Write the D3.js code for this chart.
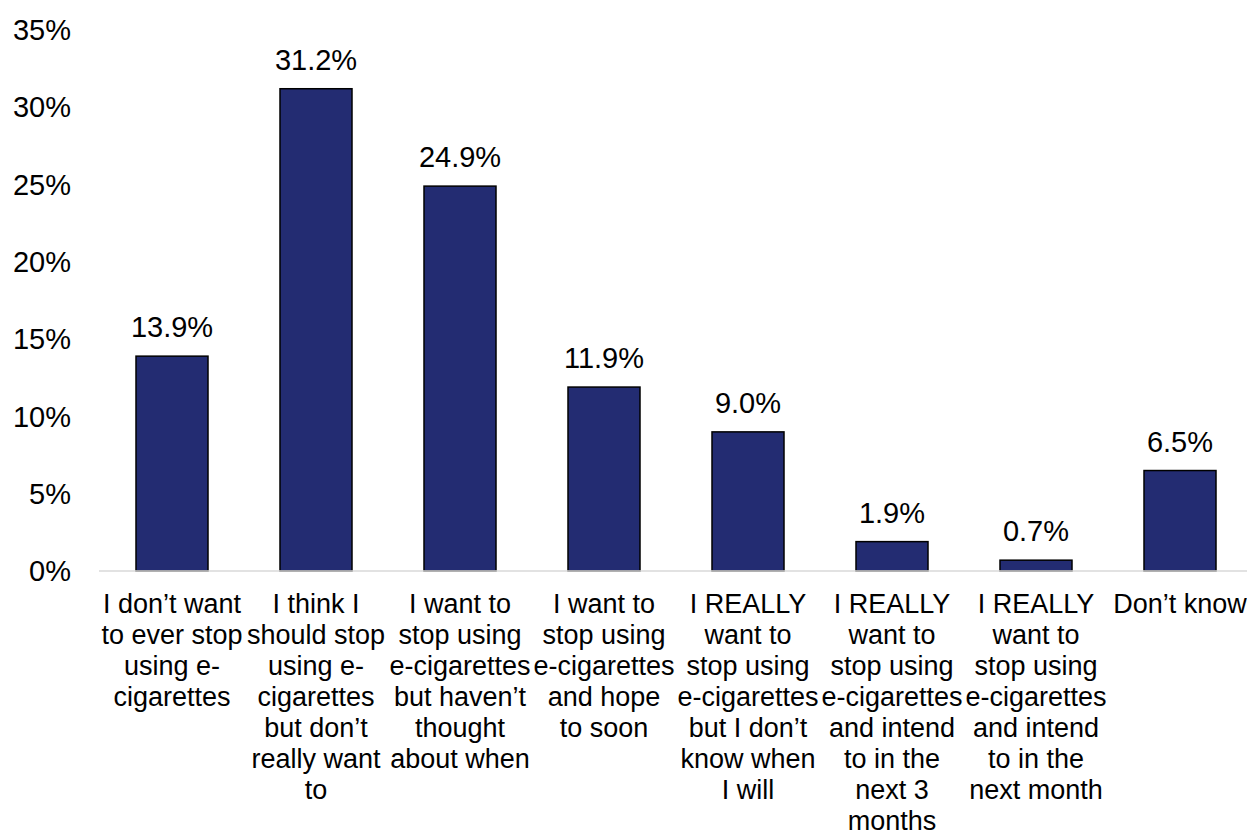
<!DOCTYPE html>
<html><head><meta charset="utf-8">
<script src="https://cdn.jsdelivr.net/npm/d3@7/dist/d3.min.js"></script>
<style>body{margin:0;background:#fff}svg{display:block}</style>
</head><body>
<svg id="c" width="1247" height="833"></svg>
<script>
const categories = [
  ["I don\u2019t want","to ever stop","using e-","cigarettes"],
  ["I think I","should stop","using e-","cigarettes","but don\u2019t","really want","to"],
  ["I want to","stop using","e-cigarettes","but haven\u2019t","thought","about when"],
  ["I want to","stop using","e-cigarettes","and hope","to soon"],
  ["I REALLY","want to","stop using","e-cigarettes","but I don\u2019t","know when","I will"],
  ["I REALLY","want to","stop using","e-cigarettes","and intend","to in the","next 3","months"],
  ["I REALLY","want to","stop using","e-cigarettes","and intend","to in the","next month"],
  ["Don\u2019t know"]
];
const values = [13.9, 31.2, 24.9, 11.9, 9.0, 1.9, 0.7, 6.5];
const yTicks = [0, 5, 10, 15, 20, 25, 30, 35];

const svg = d3.select("#c");
const font = "'Liberation Sans', Arial, sans-serif";
const x = d3.scaleBand().domain(d3.range(values.length)).range([100, 1252]).paddingInner(0.5).paddingOuter(0.25);
const y = d3.scaleLinear().domain([0, 35]).range([571, 30]);

// y tick labels
svg.append("g").selectAll("text").data(yTicks).join("text")
  .attr("x", 71).attr("y", d => y(d)).attr("dy", "0.35em")
  .attr("text-anchor", "end").attr("font-family", font).attr("font-size", 29)
  .attr("fill", "#000").text(d => d + "%");

// bars
svg.append("g").selectAll("rect").data(values).join("rect")
  .attr("x", (d, i) => x(i)).attr("width", x.bandwidth())
  .attr("y", d => y(d)).attr("height", d => y(0) - y(d))
  .attr("fill", "#232C72").attr("stroke", "#000").attr("stroke-width", 1.5);

// axis line
svg.append("line").attr("x1", 99).attr("x2", 1247).attr("y1", y(0)).attr("y2", y(0))
  .attr("stroke", "#d9d9d9").attr("stroke-width", 1.5);

// value labels
svg.append("g").selectAll("text").data(values).join("text")
  .attr("x", (d, i) => x(i) + x.bandwidth() / 2).attr("y", d => y(d) - 19)
  .attr("text-anchor", "middle").attr("font-family", font).attr("font-size", 29)
  .attr("fill", "#000").text(d => d.toFixed(1) + "%");

// category labels
const cg = svg.append("g").selectAll("text").data(categories).join("text")
  .attr("text-anchor", "middle").attr("font-family", font).attr("font-size", 27)
  .attr("fill", "#000");
cg.each(function(lines, i) {
  const cx = x(i) + x.bandwidth() / 2;
  d3.select(this).selectAll("tspan").data(lines).join("tspan")
    .attr("x", cx).attr("y", (d, j) => 613 + j * 31).text(d => d);
});
</script>
</body></html>
